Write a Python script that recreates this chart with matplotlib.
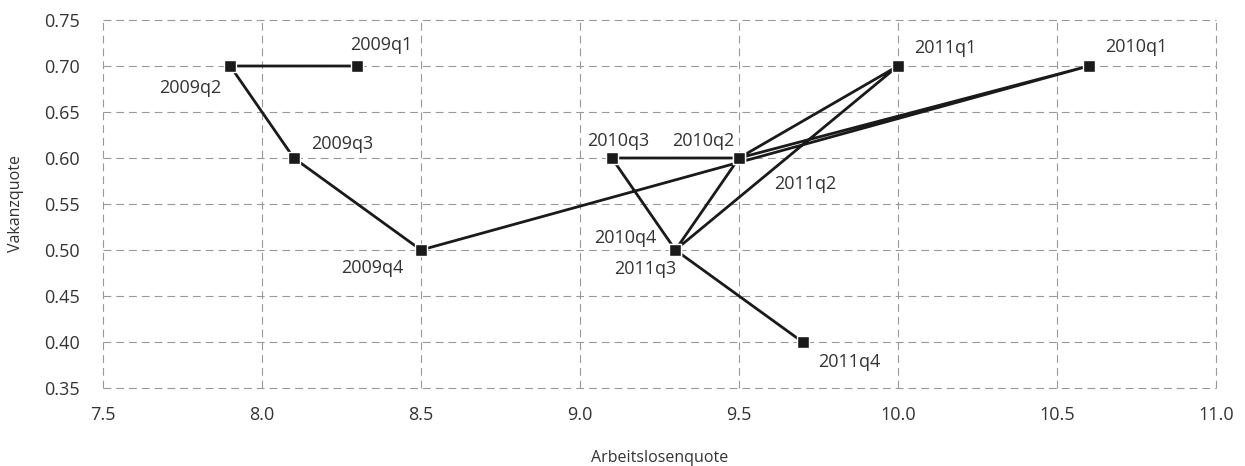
import matplotlib.pyplot as plt

plt.rcParams["font.family"] = ["Open Sans", "DejaVu Sans"]

# quarters in time order, path drawn through them
quarters = ["2009q1", "2009q2", "2009q3", "2009q4",
            "2010q1", "2010q2", "2010q3", "2010q4",
            "2011q1", "2011q2", "2011q3", "2011q4"]
unemployment = [8.3, 7.9, 8.1, 8.5, 10.6, 9.5, 9.1, 9.3, 10.0, 9.5, 9.3, 9.7]
vacancy = [0.70, 0.70, 0.60, 0.50, 0.70, 0.60, 0.60, 0.50, 0.70, 0.60, 0.50, 0.40]

# label offsets in pixels (dx, dy, horizontal alignment)
label_pos = {
    "2009q1": (-7, 21, "left"),
    "2009q2": (-9, -22, "right"),
    "2009q3": (17, 14, "left"),
    "2009q4": (-18, -18, "right"),
    "2010q1": (16, 19, "left"),
    "2010q2": (-5, 17, "right"),
    "2010q3": (6, 17, "center"),
    "2010q4": (-19, 12, "right"),
    "2011q1": (16, 18, "left"),
    "2011q2": (35, -26, "left"),
    "2011q3": (1, -19, "right"),
    "2011q4": (16, -20, "left"),
}

fig = plt.figure(figsize=(12.45, 4.66), dpi=100)
ax = fig.add_axes([103 / 1245, 1 - 388 / 466, (1216 - 103) / 1245, (388 - 20) / 466])

ax.plot(unemployment, vacancy, color="#1a1a1a", linewidth=2, marker="s",
        markersize=9, markerfacecolor="#1a1a1a", markeredgecolor="white",
        markeredgewidth=1, zorder=3, clip_on=False)

for q, x, y in zip(quarters, unemployment, vacancy):
    dx, dy, ha = label_pos[q]
    ax.annotate(q, (x, y), xytext=(dx, dy), textcoords="offset pixels",
                ha=ha, va="center", fontsize=13, color="#333333")

ax.set_xlim(7.5, 11.0)
ax.set_ylim(0.35, 0.75)
ax.set_xticks([7.5, 8.0, 8.5, 9.0, 9.5, 10.0, 10.5, 11.0])
ax.set_yticks([0.35, 0.40, 0.45, 0.50, 0.55, 0.60, 0.65, 0.70, 0.75])
ax.xaxis.set_major_formatter(plt.FormatStrFormatter("%.1f"))
ax.yaxis.set_major_formatter(plt.FormatStrFormatter("%.2f"))
ax.tick_params(length=0, labelsize=13, labelcolor="#333333", pad=17)
ax.tick_params(axis="x", pad=13)
ax.grid(True, color="#999999", linestyle=(0, (7, 4.5)), linewidth=0.8, clip_on=False)
for s in ax.spines.values():
    s.set_visible(False)

ax.set_xlabel("Arbeitslosenquote", fontsize=11.5, color="#333333", labelpad=19)
ax.set_ylabel("Vakanzquote", fontsize=11.5, color="#333333", labelpad=14)

fig.savefig("out.png", dpi=100)
